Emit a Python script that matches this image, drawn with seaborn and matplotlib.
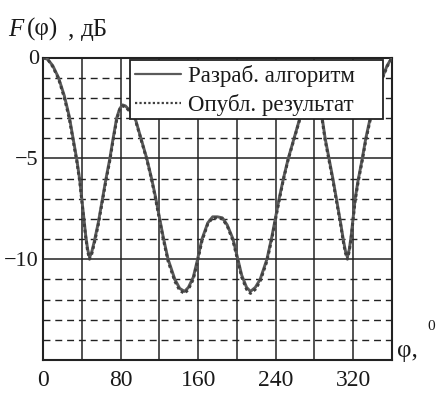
import numpy as np
import pandas as pd
import matplotlib
matplotlib.use("Agg")
import matplotlib.pyplot as plt
from matplotlib.patches import Rectangle
import seaborn as sns

# ---- data ----
phi = [0, 5, 10, 16, 22, 27, 31, 35, 38, 40, 42, 44, 46, 48, 50, 53, 57, 61, 65, 69, 72, 76,
       79, 82, 85, 89, 95, 101, 107, 112, 116, 120, 124, 129, 136, 141, 146, 150, 155, 159,
       164, 170, 175, 180,
       185, 190, 196, 201, 205, 210, 214, 219, 224, 231, 236, 240, 244, 248, 253, 259, 265,
       271, 275, 278, 281, 284, 288, 291, 295, 299, 303, 307, 310, 312, 314, 316, 318, 320,
       322, 325, 329, 333, 338, 344, 350, 355, 360]
f_dev = [0.0, -0.1, -0.4, -1.0, -1.9, -2.9, -4.0, -5.1, -6.1, -7.0, -7.9, -8.8, -9.5, -9.9, -9.7, -9.1, -8.2, -7.1, -6.0, -5.0, -4.1, -3.0,
         -2.55, -2.35, -2.4, -2.6, -3.0, -4.0, -5.0, -6.0, -6.9, -7.9, -8.9, -10.0, -11.0, -11.45, -11.6, -11.4, -10.9, -10.1,
         -9.0, -8.2, -7.9, -7.9,
         -7.95, -8.3, -9.0, -10.0, -10.8, -11.4, -11.6, -11.4, -11.0, -10.0, -8.9, -7.9, -6.9, -6.0, -5.0, -4.0, -3.0,
         -2.6, -2.4, -2.35, -2.4, -2.55, -3.0, -4.0, -5.0, -6.0, -7.1, -8.2, -9.1, -9.6, -9.9, -9.5, -8.8, -7.9,
         -7.0, -6.1, -5.1, -4.0, -2.9, -1.9, -1.0, -0.4, 0.0]
f_pub = [0.0, -0.1, -0.45, -1.05, -2.0, -3.0, -4.1, -5.2, -6.2, -7.1, -8.0, -8.9, -9.6, -10.0, -9.8, -9.2, -8.3, -7.2, -6.1, -5.1, -4.2, -3.1,
         -2.6, -2.4, -2.45, -2.65, -3.05, -4.05, -5.05, -6.05, -7.0, -8.0, -9.0, -10.1, -11.1, -11.55, -11.7, -11.5, -11.0, -10.2,
         -9.1, -8.25, -7.95, -7.95,
         -8.0, -8.35, -9.1, -10.1, -10.9, -11.5, -11.7, -11.5, -11.1, -10.1, -9.0, -8.0, -7.0, -6.05, -5.05, -4.05, -3.05,
         -2.65, -2.45, -2.4, -2.45, -2.6, -3.1, -4.1, -5.1, -6.1, -7.2, -8.3, -9.2, -9.7, -10.0, -9.6, -8.9, -8.0,
         -7.1, -6.2, -5.2, -4.1, -3.0, -2.0, -1.05, -0.45, 0.0]
label_dev = "Разраб. алгоритм"
label_pub = "Опубл. результат"
x_ticks = [0, 80, 160, 240, 320]
y_ticks = [0, -5, -10]
y_ticklabels = ["0", "\u22125", "\u221210"]

df = pd.DataFrame({"phi": phi + phi,
                   "F": f_dev + f_pub,
                   "series": [label_dev] * len(phi) + [label_pub] * len(phi)})

sns.set_style("white")
plt.rcParams['font.family'] = ['Liberation Serif', 'DejaVu Serif']
plt.rcParams['mathtext.fontset'] = 'custom'
plt.rcParams['mathtext.it'] = 'Liberation Serif:italic'
plt.rcParams['mathtext.rm'] = 'Liberation Serif'

ink = "#1a1a1a"
W, H = 436, 394
L, T, R, B = 43, 57.5, 392, 360
fig = plt.figure(figsize=(W / 100, H / 100), dpi=100)
ax = fig.add_axes([L / W, 1 - B / H, (R - L) / W, (B - T) / H])

def ax_x(px):
    return (px - L) / (R - L)

def ax_y(py):
    return (B - py) / (B - T)

# grid
for xv in range(40, 360, 40):
    ax.axvline(xv, color="#222222", lw=1.1, zorder=1)
for yv in range(-14, 0):
    if yv % 5 == 0:
        ax.axhline(yv, color="#222222", lw=1.1, zorder=1)
    else:
        ax.axhline(yv, color="#222222", lw=1.0, ls=(0, (5, 3.5)), zorder=1)

sns.lineplot(data=df, x="phi", y="F", hue="series", style="series",
             palette={label_dev: "#5a5a5a", label_pub: "#404040"},
             dashes={label_dev: "", label_pub: (1, 1)},
             linewidth=2.1, ax=ax, zorder=3, sort=False)

ax.set_xlim(0, 360)
ax.set_ylim(-15, 0)
ax.set_xticks(x_ticks)
ax.set_yticks(y_ticks)
ax.set_yticklabels(y_ticklabels)
ax.tick_params(axis="both", length=0, colors=ink)
ax.tick_params(axis="x", pad=7, labelsize=17)
ax.tick_params(axis="y", pad=3, labelsize=16)
ax.set_xlabel("")
ax.set_ylabel("")
for s in ax.spines.values():
    s.set_color("#222222")
    s.set_linewidth(1.5)

# legend frame (drawn as a box) + legend entries
fx0, fx1, fy0, fy1 = 130, 383, 60, 119
frame = Rectangle((ax_x(fx0), ax_y(fy1)), ax_x(fx1) - ax_x(fx0), ax_y(fy0) - ax_y(fy1),
                  transform=ax.transAxes, facecolor="white", edgecolor="#222222",
                  linewidth=1.3, zorder=5)
ax.add_patch(frame)
leg = ax.legend(loc="upper left", bbox_to_anchor=(ax_x(133), ax_y(63)), fontsize=16.5,
                frameon=False, handlelength=2.0, handletextpad=0.3, borderpad=0.1,
                labelspacing=0.3, borderaxespad=0)
leg.set_zorder(6)
for h in leg.get_lines():
    h.set_linewidth(1.6)
for t in leg.get_texts():
    t.set_color(ink)

fig.text(8 / W, 1 - 36 / H, r"$F$", fontsize=18, color=ink)
fig.text(27 / W, 1 - 36 / H, "(φ)", fontsize=18, color=ink)
fig.text(68 / W, 1 - 36 / H, ",", fontsize=18, color=ink)
fig.text(81 / W, 1 - 36 / H, "дБ", fontsize=18, color=ink)
fig.text(397 / W, 1 - 357 / H, "φ,", fontsize=18, color=ink)
fig.text(427 / W, 1 - 330 / H, "0", fontsize=11, color=ink)

fig.savefig("out.png", dpi=100)
